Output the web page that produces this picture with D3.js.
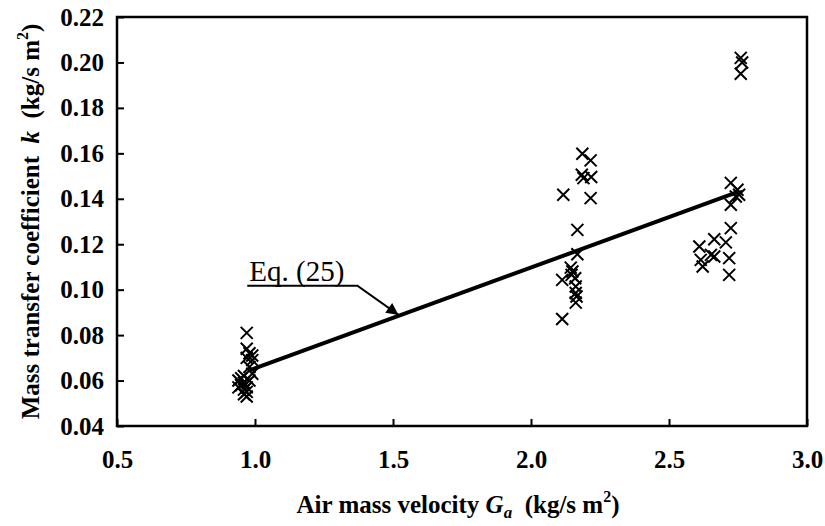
<!DOCTYPE html>
<html><head><meta charset="utf-8">
<script src="https://cdn.jsdelivr.net/npm/d3@7"></script>
<style>body{margin:0;background:#fff}svg{display:block}</style>
</head><body><svg id="c" width="825" height="526"></svg>
<script>
// Measured data: air mass velocity G_a (kg/s m2) vs mass transfer coefficient k (kg/s m2)
const pointsG = [
  0.97,0.97,0.98,0.99,0.97,0.99,0.98,0.99,0.96,0.95,0.94,0.96,0.95,0.97,0.94,0.96,0.97,0.96,0.97,0.95,0.98,
  2.186,2.216,2.184,2.19,2.218,2.117,2.216,2.168,2.168,2.144,2.15,2.113,2.147,2.16,2.162,2.162,2.165,2.162,2.113,
  2.76,2.765,2.76,2.724,2.748,2.754,2.742,2.724,2.724,2.706,2.664,2.61,2.664,2.615,2.622,2.718,2.718,2.652
];
const pointsK = [
  0.081,0.074,0.072,0.071,0.070,0.069,0.066,0.063,0.062,0.061,0.060,0.059,0.058,0.057,0.057,0.056,0.055,0.054,0.053,0.058,0.060,
  0.1598,0.1569,0.1506,0.1491,0.1496,0.1418,0.1403,0.1263,0.1156,0.1097,0.108,0.1043,0.1065,0.105,0.1014,0.0985,0.097,0.0943,0.0871,
  0.202,0.200,0.195,0.147,0.144,0.1418,0.141,0.1374,0.1271,0.1208,0.1222,0.119,0.1146,0.1131,0.1102,0.1139,0.1065,0.1153
];
// Eq. (25) correlation line endpoints
const eqG = [0.98, 2.75];
const eqK = [0.0645, 0.143];
// Annotation leader (label, elbow, arrow tip)
const annG = [0.972, 1.371, 1.52];
const annK = [0.1017, 0.1017, 0.0889];
const xTicks = [0.5, 1.0, 1.5, 2.0, 2.5, 3.0];
const yTicks = [0.04, 0.06, 0.08, 0.10, 0.12, 0.14, 0.16, 0.18, 0.20, 0.22];

const svg = d3.select("#c");
const L = 117, R = 807, T = 17, B = 426;
const x = d3.scaleLinear().domain([0.5, 3.0]).range([L, R]);
const y = d3.scaleLinear().domain([0.04, 0.22]).range([B, T]);
const font = "'Liberation Serif','Times New Roman',serif";

// axes with inward ticks
const gx = svg.append("g").attr("transform", `translate(0,${B})`)
  .call(d3.axisBottom(x).tickValues(xTicks).tickFormat(d3.format(".1f")).tickSizeInner(-7).tickSizeOuter(0).tickPadding(24));
const gy = svg.append("g").attr("transform", `translate(${L},0)`)
  .call(d3.axisLeft(y).tickValues(yTicks).tickFormat(d3.format(".2f")).tickSizeInner(-7).tickSizeOuter(0).tickPadding(13));
[gx, gy].forEach(g => {
  g.select(".domain").remove();
  g.selectAll(".tick line").attr("stroke", "#000").attr("stroke-width", 2);
  g.selectAll(".tick text").attr("font-family", font).attr("font-weight", "bold")
    .attr("font-size", 25).attr("fill", "#000");
});
// frame
svg.append("rect").attr("x", L).attr("y", T).attr("width", R - L).attr("height", B - T)
  .attr("fill", "none").attr("stroke", "#000").attr("stroke-width", 2.5);

// Eq line
svg.append("line").attr("x1", x(eqG[0])).attr("y1", y(eqK[0])).attr("x2", x(eqG[1])).attr("y2", y(eqK[1]))
  .attr("stroke", "#000").attr("stroke-width", 4);

// crosses
const s = 6;
const pts = pointsG.map((g, i) => [x(g), y(pointsK[i])]);
svg.append("g").selectAll("path").data(pts).join("path")
  .attr("d", d => `M${d[0]-s},${d[1]-s}L${d[0]+s},${d[1]+s}M${d[0]-s},${d[1]+s}L${d[0]+s},${d[1]-s}`)
  .attr("stroke", "#000").attr("stroke-width", 2).attr("fill", "none");

// annotation
svg.append("defs").append("marker").attr("id", "ah").attr("viewBox", "0 0 10 10")
  .attr("refX", 10).attr("refY", 5).attr("markerWidth", 18).attr("markerHeight", 12)
  .attr("markerUnits", "userSpaceOnUse").attr("orient", "auto")
  .append("path").attr("d", "M0,0L10,5L0,10Z").attr("fill", "#000");
svg.append("path")
  .attr("d", d3.line()(annG.map((g, i) => [x(g), y(annK[i])])))
  .attr("fill", "none").attr("stroke", "#000").attr("stroke-width", 2).attr("marker-end", "url(#ah)");
svg.append("text").attr("x", x(annG[0]) + 2).attr("y", y(annK[0]) - 5)
  .attr("font-family", font).attr("font-size", 29).text("Eq. (25)");

// x title
const xt = svg.append("text").attr("x", (L + R) / 2 - 4).attr("y", 513).attr("text-anchor", "middle")
  .attr("font-family", font).attr("font-weight", "bold").attr("font-size", 25);
xt.append("tspan").text("Air mass velocity ");
xt.append("tspan").attr("font-style", "italic").text("G");
xt.append("tspan").attr("font-style", "italic").attr("font-size", 17).attr("dy", 5).text("a");
xt.append("tspan").attr("dy", -5).text("\u00a0 (kg/s m");
xt.append("tspan").attr("font-size", 16).attr("dy", -11).text("2");
xt.append("tspan").attr("dy", 11).text(")");

// y title
const yt = svg.append("text").attr("transform", `translate(39,${(T + B) / 2}) rotate(-90)`)
  .attr("text-anchor", "middle").attr("font-family", font).attr("font-weight", "bold").attr("font-size", 25);
yt.append("tspan").text("Mass transfer coefficient\u00a0 ");
yt.append("tspan").attr("font-style", "italic").text("k");
yt.append("tspan").text("\u00a0 (kg/s m");
yt.append("tspan").attr("font-size", 16).attr("dy", -11).text("2");
yt.append("tspan").attr("dy", 11).text(")");
</script></body></html>
